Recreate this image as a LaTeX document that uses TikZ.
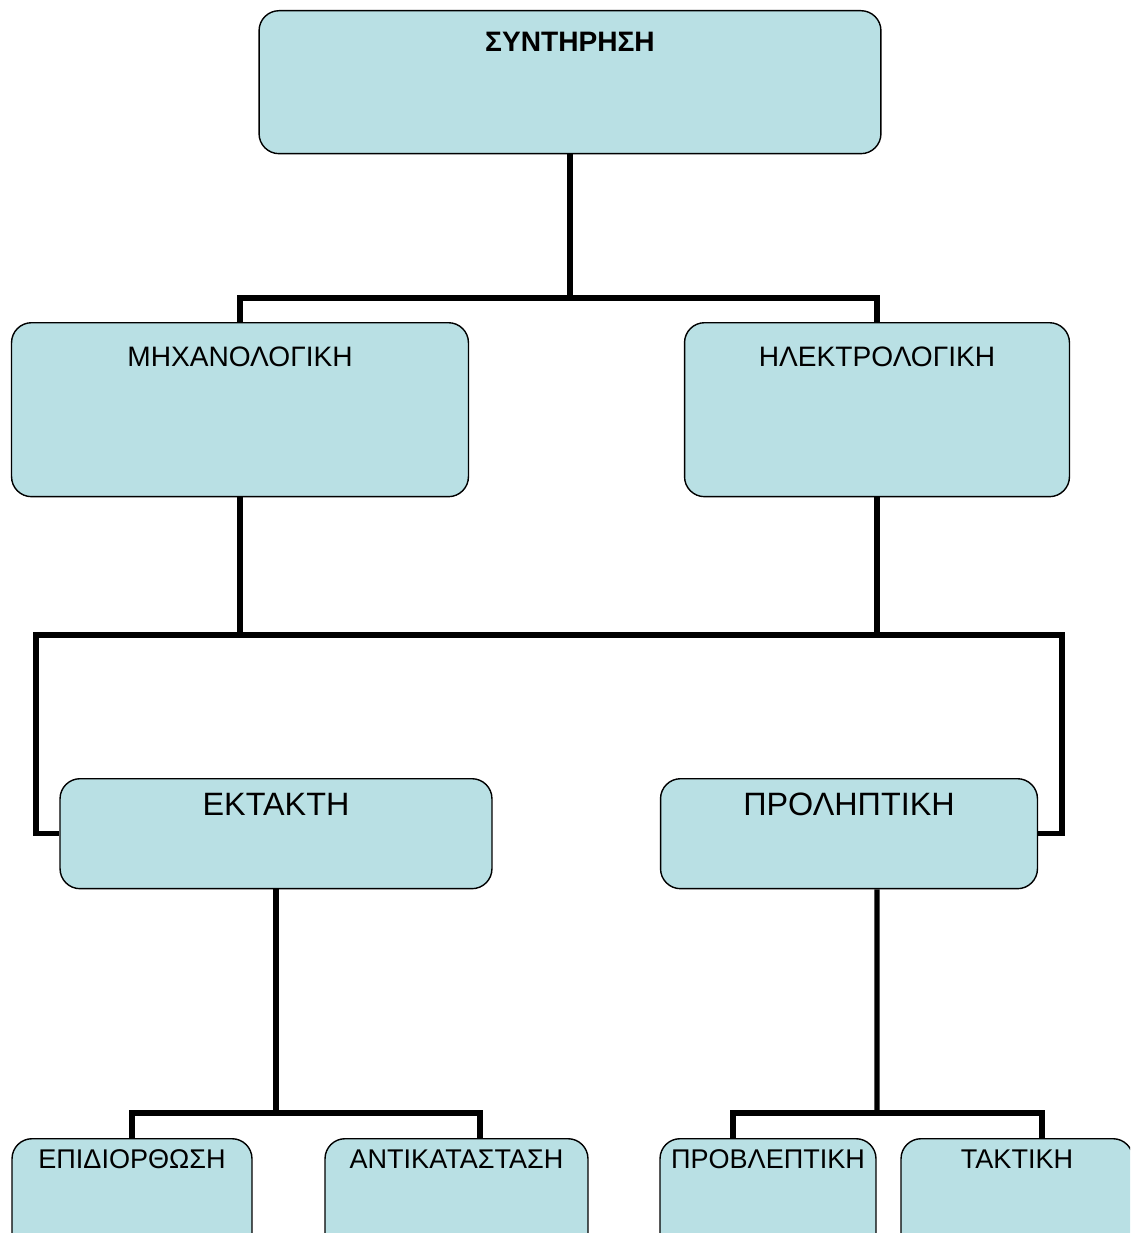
\documentclass[tikz,border=0pt]{standalone}
\usepackage{fontspec}
\setmainfont{Liberation Sans}
\usepackage{tikz}
\usetikzlibrary{arrows,shapes}
\usetikzlibrary{positioning}
\definecolor{boxfill}{RGB}{185,224,228}
\tikzstyle{block} = [draw, rectangle, rounded corners=0.4cm, fill=boxfill,
    line width=0.8pt, inner sep=0pt, anchor=north]
\tikzstyle{conn} = [line width=3pt]

\begin{document}
\begin{tikzpicture}[x=0.02cm, y=-0.02cm]
  \useasboundingbox (0,0) rectangle (1130,1233);
  \clip (0,0) rectangle (1130,1233);
  % Place nodes
  \node [block, minimum width=12.44cm, text height=0.82cm, text depth=2.04cm] (c1) at (570,10)
  {\fontsize{16pt}{18pt}\selectfont\bfseries ΣΥΝΤΗΡΗΣΗ};
  \node [block, minimum width=9.14cm, text height=0.88cm, text depth=2.6cm] (c21) at (240,322)
  {\fontsize{16pt}{18pt}\selectfont ΜΗΧΑΝΟΛΟΓΙΚΗ};
  \node [block, minimum width=7.7cm, text height=0.88cm, text depth=2.6cm] (c22) at (877,322)
  {\fontsize{16pt}{18pt}\selectfont ΗΛΕΚΤΡΟΛΟΓΙΚΗ};
  \node [block, minimum width=8.64cm, text height=0.74cm, text depth=1.46cm] (c31) at (276,778)
  {\fontsize{18.4pt}{21pt}\selectfont ΕΚΤΑΚΤΗ};
  \node [block, minimum width=7.54cm, text height=0.74cm, text depth=1.46cm] (c32) at (849,778)
  {\fontsize{18.4pt}{21pt}\selectfont ΠΡΟΛΗΠΤΙΚΗ};
  \node [block, minimum width=4.8cm, text height=0.6cm, text depth=1.8cm] (c41) at (132,1138)
  {\fontsize{15.4pt}{17pt}\selectfont ΕΠΙΔΙΟΡΘΩΣΗ};
  \node [block, minimum width=5.26cm, text height=0.6cm, text depth=1.8cm] (c42) at (456.5,1138)
  {\fontsize{15.4pt}{17pt}\selectfont ΑΝΤΙΚΑΤΑΣΤΑΣΗ};
  \node [block, minimum width=4.32cm, text height=0.6cm, text depth=1.8cm] (c43) at (768,1138)
  {\fontsize{15.4pt}{17pt}\selectfont ΠΡΟΒΛΕΠΤΙΚΗ};
  \node [block, minimum width=4.64cm, text height=0.6cm, text depth=1.8cm] (c44) at (1017,1138)
  {\fontsize{15.4pt}{17pt}\selectfont ΤΑΚΤΙΚΗ};
  % Junctions
  \coordinate (j1) at (570,298);
  \coordinate (bl) at (36,635);
  \coordinate (br) at (1062,635);
  \coordinate (j3) at (276,1113);
  \coordinate (j4) at (877,1113);
  % Draw edges
  \draw [conn] (c1.south) -- (j1);
  \draw [conn] (c21.north) |- (j1) -| (c22.north);
  \draw [conn] (c21.south) -- (c21.south |- bl);
  \draw [conn] (c22.south) -- (c22.south |- br);
  \draw [conn] (c31.west) -| (bl) -- (br) |- (c32.east);
  \draw [conn] (c31.south) -- (j3);
  \draw [conn] (c41.north) |- (j3) -| ([xshift=0.47cm]c42.north);
  \draw [conn] ([xshift=0.56cm]c32.south) -- (j4);
  \draw [conn] ([xshift=-0.7cm]c43.north) |- (j4) -| ([xshift=0.5cm]c44.north);
\end{tikzpicture}
\end{document}
